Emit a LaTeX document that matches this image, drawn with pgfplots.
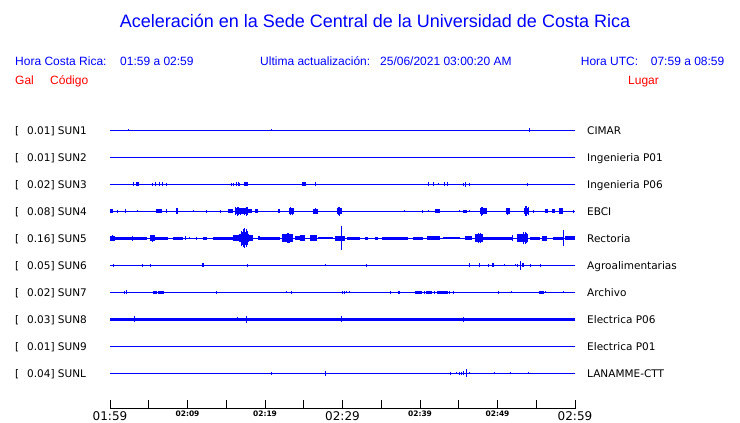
\documentclass[border=0pt]{standalone}
\usepackage{pgfplots}
\pgfplotsset{compat=1.18}
\usepackage{fontspec}
\setmainfont{Liberation Sans}
\newfontfamily\dv{DejaVu Sans}
\definecolor{tblue}{RGB}{0,0,255}
\definecolor{tred}{RGB}{255,0,0}
\newcommand\BT[1]{{\fontsize{12}{12}\selectfont #1}}
\newcommand\ST[1]{{\bfseries\fontsize{7.5}{7.5}\selectfont #1}}
\pgfplotsset{
  spk/.style={draw=none, mark=none, error bars/.cd, y dir=both, y explicit, error mark=none, error bar style={line width=1pt, draw=tblue}},
  band/.style={tblue, line width=#1, unbounded coords=jump, mark=none},
  base/.style={tblue, line width=1pt, mark=none}
}
\begin{document}
\begin{tikzpicture}
\path[use as bounding box] (0pt,0pt) rectangle (740pt,423pt);
\begin{axis}[at={(110pt,14pt)}, anchor=south west, scale only axis,
  width=465pt, height=409pt, xmin=0, xmax=60, ymin=14, ymax=423,
  axis x line*=bottom, axis y line=none,
  xtick={0,5,...,60}, tick align=inside, major tick length=9pt,
  xtick style={black, line width=0.9pt}, axis line style={black, line width=1pt},
  xticklabels={\BT{01:59},{},\ST{02:09},{},\ST{02:19},{},\BT{02:29},{},\ST{02:39},{},\ST{02:49},{},\BT{02:59}},
  xticklabel style={font=\dv, inner sep=0pt, anchor=north, yshift=-2pt},
  clip=false]
% ---- SUN1
\addplot[base] coordinates {(0,292.7) (60,292.7)};
\addplot[spk] table[row sep=\\, x=t, y expr=292.7, y error=a]{t a\\2.36 1.2\\20.82 1.2\\54.10 2\\};
% ---- SUN2
\addplot[base] coordinates {(0,265.7) (60,265.7)};
% ---- SUN3
\addplot[base] coordinates {(0,238.7) (60,238.7)};
\addplot[band=4.4pt] table[row sep=\\, x=x, y expr=238.7]{x\\3.30\\3.70\\nan\\17.33\\17.77\\nan\\24.81\\25.25\\};
\addplot[spk] table[row sep=\\, x=t, y expr=238.7, y error=a]{t a\\3.01 2\\5.51 1.5\\5.85 2\\6.45 2\\6.80 2.2\\7.26 1.5\\15.70 1.5\\15.91 1.5\\16.26 2\\16.55 2\\16.77 1.5\\26.49 2\\41.07 2\\41.68 2\\42.36 1\\43.13 2\\43.52 2\\45.59 1.5\\45.90 2.5\\46.36 1.5\\53.85 1.5\\};
% ---- SUN4
\addplot[base] coordinates {(0,211.7) (60,211.7)};
\addplot[band=3pt] table[row sep=\\, x=x, y expr=211.7]{x\\45.59\\46.03\\};
\addplot[band=4pt] table[row sep=\\, x=x, y expr=211.7]{x\\0.0\\0.43\\nan\\5.94\\6.67\\nan\\15.19\\15.91\\nan\\17.85\\18.28\\nan\\18.75\\19.14\\nan\\21.72\\21.94\\nan\\41.94\\42.58\\nan\\56.13\\56.56\\nan\\56.99\\57.42\\};
\addplot[band=5pt] table[row sep=\\, x=x, y expr=211.7]{x\\26.23\\26.88\\};
\addplot[band=6pt] table[row sep=\\, x=x, y expr=211.7]{x\\8.52\\8.81\\nan\\16.13\\17.85\\nan\\23.14\\23.74\\nan\\29.25\\29.90\\nan\\47.74\\48.68\\nan\\51.10\\51.61\\nan\\53.42\\54.10\\nan\\57.97\\58.49\\};
\addplot[spk] table[row sep=\\, x=t, y expr=211.7, y error=a]{t a\\0.94 1.5\\1.94 2\\3.52 1\\7.32 2\\10.75 1\\12.48 1.5\\14.28 1.5\\16.2 4\\16.4 4.5\\16.6 4\\16.9 3.5\\17.3 3.5\\17.6 4.5\\17.72 4\\23.35 4\\23.5 3.5\\26.58 3\\29.45 4\\29.6 4.5\\38.06 1\\40.35 1.5\\41.07 1\\45.16 1\\46.45 1\\47.9 4.5\\48.05 4\\51.35 3.5\\53.65 5\\53.8 5\\53.95 4\\54.62 1.5\\59.78 1.5\\};
% ---- SUN5
\addplot[base] coordinates {(0,184.7) (60,184.7)};
\addplot[band=2pt] table[row sep=\\, x=x, y expr=184.7]{x\\26.88\\28.82\\nan\\43.01\\45.16\\};
\addplot[band=3pt] table[row sep=\\, x=x, y expr=184.7]{x\\0.65\\2.80\\nan\\2.97\\4.74\\nan\\5.81\\7.52\\nan\\8.17\\9.46\\nan\\12.04\\12.48\\nan\\13.33\\15.91\\nan\\19.35\\21.94\\nan\\30.54\\32.26\\nan\\32.90\\33.33\\nan\\34.19\\34.62\\nan\\35.06\\38.49\\nan\\39.14\\40.43\\nan\\48.17\\52.03\\nan\\54.19\\55.48\\nan\\57.20\\58.49\\};
\addplot[band=4pt] table[row sep=\\, x=x, y expr=184.7]{x\\19.14\\19.35\\nan\\23.87\\24.52\\nan\\40.86\\42.58\\nan\\45.81\\46.67\\nan\\58.71\\60\\};
\addplot[band=5pt] table[row sep=\\, x=x, y expr=184.7]{x\\0\\0.65\\nan\\29.03\\30.32\\nan\\55.70\\56.35\\};
\addplot[band=6pt] table[row sep=\\, x=x, y expr=184.7]{x\\5.16\\5.81\\nan\\15.91\\16.77\\nan\\17.85\\18.49\\nan\\24.52\\25.16\\nan\\25.81\\26.67\\};
\addplot[band=8pt] table[row sep=\\, x=x, y expr=184.7]{x\\22.15\\23.65\\nan\\47.10\\48.17\\nan\\52.48\\53.97\\nan\\16.6\\17.95\\};
\addplot[band=13pt] table[row sep=\\, x=x, y expr=184.7]{x\\17.05\\17.7\\};
\addplot[spk] table[row sep=\\, x=t, y expr=184.7, y error=a]{t a\\0.3 3\\2.93 2.5\\5.5 3.5\\9.68 2\\10.32 1\\11.19 1.5\\16.95 7.5\\17.2 9\\17.4 10\\17.55 9\\17.8 7\\22.9 5\\23.0 5\\23.2 4.5\\29.81 12\\47.6 5\\47.75 5\\51.91 3\\53.3 6\\53.55 6\\53.7 5\\58.49 8\\};
% ---- SUN6
\addplot[base] coordinates {(0,157.7) (60,157.7)};
\addplot[band=4pt] table[row sep=\\, x=x, y expr=157.7]{x\\11.82\\12.08\\nan\\49.25\\49.5\\nan\\53.12\\53.38\\};
\addplot[spk] table[row sep=\\, x=t, y expr=157.7, y error=a]{t a\\0.43 1.5\\4.17 1.5\\5.20 1.5\\17.77 1.5\\27.78 1\\33.07 1.5\\46.45 2\\47.74 2\\48.81 1.5\\50.88 1\\52.35 1\\52.61 1.5\\52.94 4.5\\54.23 1.5\\55.52 1.5\\};
% ---- SUN7
\addplot[base] coordinates {(0,130.7) (60,130.7)};
\addplot[band=3.2pt] table[row sep=\\, x=x, y expr=130.7]{x\\5.59\\6.03\\nan\\6.23\\6.93\\nan\\23.35\\23.52\\nan\\37.12\\37.37\\nan\\39.35\\40.22\\nan\\40.74\\41.51\\nan\\42.15\\43.56\\nan\\55.35\\56.04\\};
\addplot[spk] table[row sep=\\, x=t, y expr=130.7, y error=a]{t a\\1.85 1.5\\2.10 2\\13.68 1.5\\22.80 1\\29.97 1.5\\30.23 1.5\\30.54 1\\30.88 1\\36.17 1.5\\40.56 1.5\\41.85 1.5\\43.87 1.5\\44.30 1.5\\50.15 1.5\\51.78 1\\56.13 1\\58.49 1\\};
% ---- SUN8
\addplot[tblue, line width=3.4pt, mark=none] coordinates {(0,103.7) (60,103.7)};
\addplot[spk] table[row sep=\\, x=t, y expr=103.7, y error=a]{t a\\3.10 2.8\\16.48 2\\17.59 3.3\\29.81 2.8\\45.59 2.5\\};
% ---- SUN9
\addplot[base] coordinates {(0,76.7) (60,76.7)};
% ---- SUNL
\addplot[base] coordinates {(0,49.7) (60,49.7)};
\addplot[spk] table[row sep=\\, x=t, y expr=49.7, y error=a]{t a\\20.81 1.5\\27.87 2.5\\44.0 1.5\\44.74 1\\45.07 1.5\\45.38 1.5\\45.59 2\\45.94 4\\46.36 1\\49.59 1\\51.65 1\\53.97 1\\};
\end{axis}
% ---- title and header
\node[anchor=base, inner sep=0pt, text=tblue, font=\fontsize{18}{18}\selectfont] at (375pt,395pt) {Aceleración en la Sede Central de la Universidad de Costa Rica};
\begin{scope}[every node/.style={anchor=base west, inner sep=0pt, font=\fontsize{12}{14}\selectfont}]
\node[text=tblue] at (15pt,357.3pt) {Hora Costa Rica:};
\node[text=tblue] at (120pt,357.3pt) {01:59 a 02:59};
\node[text=tblue] at (260pt,357.3pt) {Ultima actualización:};
\node[text=tblue] at (380pt,357.3pt) {25/06/2021 03:00:20 AM};
\node[text=tblue] at (580.7pt,357.3pt) {Hora UTC:};
\node[text=tblue] at (650.7pt,357.3pt) {07:59 a 08:59};
\node[text=tred] at (15pt,338pt) {Gal};
\node[text=tred] at (50pt,338pt) {Código};
\node[text=tred] at (628pt,338pt) {Lugar};
\end{scope}
% ---- trace labels
\foreach \yy/\v/\c/\n in {288.7/0.01/SUN1/CIMAR, 261.7/0.01/SUN2/Ingenieria P01, 234.7/0.02/SUN3/Ingenieria P06, 207.7/0.08/SUN4/EBCI, 180.7/0.16/SUN5/Rectoria, 153.7/0.05/SUN6/Agroalimentarias, 126.7/0.02/SUN7/Archivo, 99.7/0.03/SUN8/Electrica P06, 72.7/0.01/SUN9/Electrica P01, 45.7/0.04/SUNL/LANAMME-CTT}{
  \node[anchor=base west, inner sep=0pt, font=\dv\fontsize{10.5}{12}\selectfont] at (15pt,\yy pt) {[};
  \node[anchor=base west, inner sep=0pt, font=\dv\fontsize{10.5}{12}\selectfont] at (27pt,\yy pt) {\v] \c};
  \node[anchor=base west, inner sep=0pt, font=\dv\fontsize{10.5}{12}\selectfont] at (587pt,\yy pt) {\n};
}
\end{tikzpicture}
\end{document}
